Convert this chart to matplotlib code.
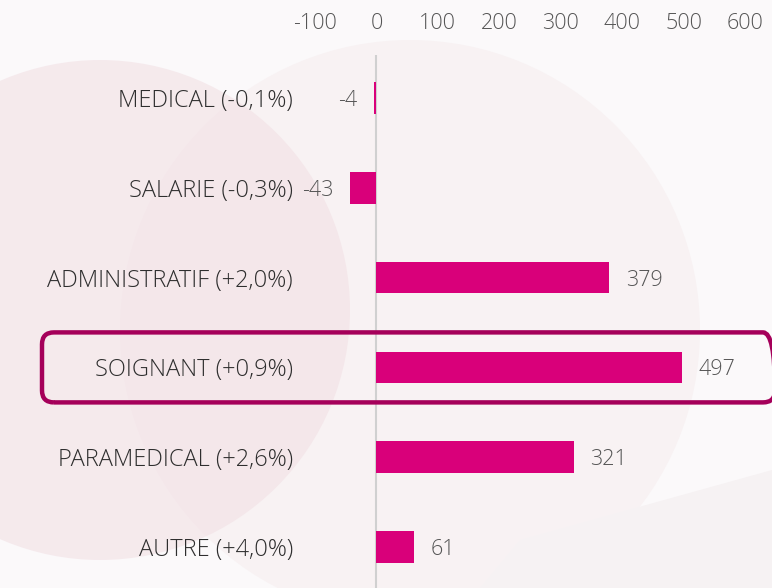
import matplotlib
matplotlib.use("Agg")
import matplotlib.pyplot as plt
from matplotlib.patches import FancyBboxPatch, Circle, Polygon

categories = ["MEDICAL (-0,1%)", "SALARIE (-0,3%)", "ADMINISTRATIF (+2,0%)",
              "SOIGNANT (+0,9%)", "PARAMEDICAL (+2,6%)", "AUTRE (+4,0%)"]
values = [-4, -43, 379, 497, 321, 61]
xticks = [-100, 0, 100, 200, 300, 400, 500, 600]
highlight = "SOIGNANT (+0,9%)"

W, H = 772, 588
DPI = 100
plt.rcParams['font.family'] = ['Open Sans', 'DejaVu Sans']
plt.rcParams['font.weight'] = 'light'

fig = plt.figure(figsize=(W / DPI, H / DPI), dpi=DPI)
fig.patch.set_facecolor('#fbf9fa')

# background decoration (figure pixel coords)
bg = fig.add_axes([0, 0, 1, 1], zorder=-10)
bg.set_xlim(0, W)
bg.set_ylim(H, 0)
bg.axis('off')
bg.add_patch(Circle((410, 330), 290, facecolor='#f8f2f3', edgecolor='none'))
bg.add_patch(Circle((100, 310), 250, facecolor='#f2e0e4', edgecolor='none', alpha=0.6))
bg.add_patch(Polygon([(480, 588), (520, 540), (772, 470), (772, 588)],
                     closed=True, facecolor='#f6f2f3', edgecolor='none'))

left_px, right_px, top_px, bot_px = 315, 745, 55, 588
ax = fig.add_axes([left_px / W, 1 - bot_px / H, (right_px - left_px) / W, (bot_px - top_px) / H])
ax.patch.set_alpha(0)

n = len(categories)
ypos = list(range(n))
ax.barh(ypos, values, height=0.35, color='#d9007a', zorder=3)
ax.set_xlim(-100, 600)
unit = 89.8
ax.set_ylim(n - 1 + 41 / unit, -43 / unit)
ax.axvline(0, color='#d0d0d0', lw=1.5, zorder=2)

ax.xaxis.tick_top()
ax.set_xticks(xticks)
ax.set_xticklabels([str(t) for t in xticks], fontsize=15.5, color='#555555')
ax.tick_params(axis='x', length=0, pad=15)
ax.set_yticks(ypos)
ax.set_yticklabels(categories, fontsize=17, color='#2e2e2e', va='center_baseline')
ax.tick_params(axis='y', length=0, pad=16)
for s in ax.spines.values():
    s.set_visible(False)

for y, v in zip(ypos, values):
    if v >= 0:
        ax.annotate(str(v), (v, y), xytext=(12, 0), textcoords='offset points',
                    ha='left', va='center_baseline', fontsize=15.5, color='#555555')
    else:
        ax.annotate(str(v), (v, y), xytext=(-12, 0), textcoords='offset points',
                    ha='right', va='center_baseline', fontsize=15.5, color='#555555')

# highlight box
hi = categories.index(highlight)
yc = H - (top_px + (hi + 43 / unit) * unit)
box = FancyBboxPatch((42, yc - 35), 733, 70, boxstyle="round,pad=0,rounding_size=12",
                     transform=None, facecolor='none', edgecolor='#a5005a', lw=3.2,
                     zorder=10)
fig.patches.append(box)
box.set_figure(fig)

fig.savefig('out.png', dpi=DPI, facecolor=fig.get_facecolor())
